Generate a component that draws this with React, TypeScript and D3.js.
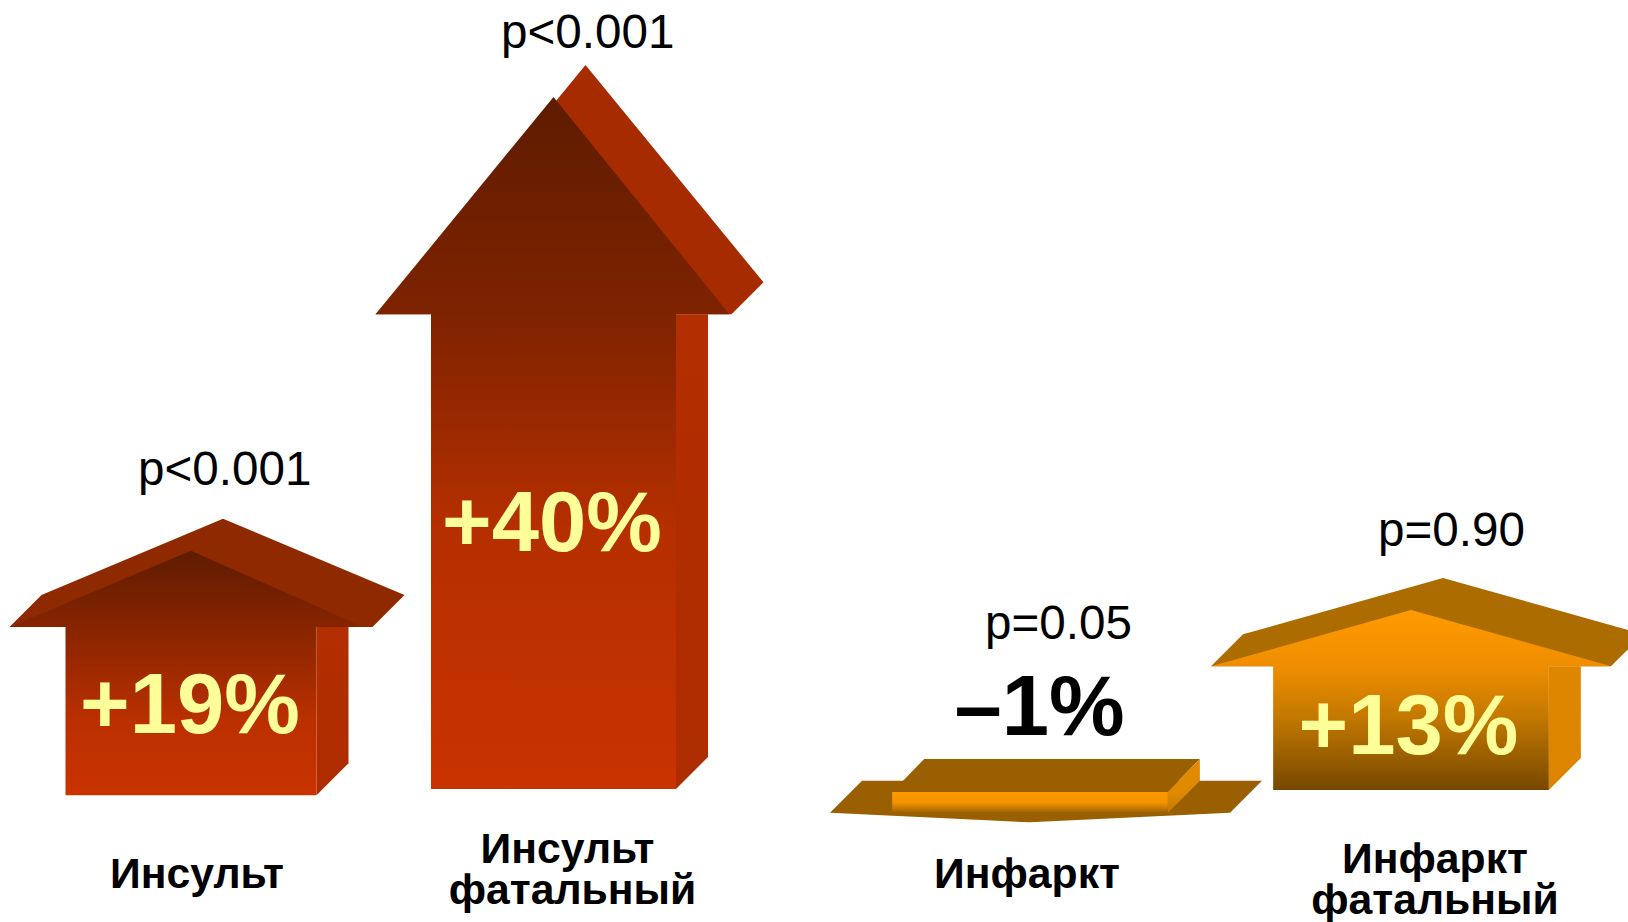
import React from "react";
import * as d3 from "d3";

// Outcomes and the relative change reported for each
const categories = ["stroke", "strokeFatal", "infarct", "infarctFatal"];
const changes = [19, 40, -1, 13];
const changeLabels = ["+19%", "+40%", "–1%", "+13%"];
const pLabels = ["p<0.001", "p<0.001", "p=0.05", "p=0.90"];
const nameLines = [["Инсульт"], ["Инсульт", "фатальный"], ["Инфаркт"], ["Инфаркт", "фатальный"]];

const WIDTH = 1628;
const HEIGHT = 922;
const FONT = "'Liberation Sans', Arial, sans-serif";
const DEPTH = 32;

// The arrows are schematic, so length follows the value through a stepped scale
const arrowLength = d3.scaleLinear().domain([-1, 13, 19, 40]).range([30.3, 180, 244.6, 692]);
const headLength = d3.scaleLinear().domain([-1, 13, 19, 40]).range([9.6, 56.3, 76.3, 217.3]);

const centerX = d3.scaleOrdinal<string, number>().domain(categories).range([191, 553.5, 1030, 1411]);
const baseY = d3.scaleOrdinal<string, number>().domain(categories).range([795.3, 789, 792, 790]);
const shaftWidth = d3.scaleOrdinal<string, number>().domain(categories).range([251, 245, 275.7, 275.7]);
const headWidth = d3.scaleOrdinal<string, number>().domain(categories).range([363, 356, 400, 400]);
// How far the lit front of the head stops short of its right corner
const headInset = d3.scaleOrdinal<string, number>().domain(categories).range([9, 2, 0, 0]);

const pX = d3.scaleOrdinal<string, number>().domain(categories).range([138, 501, 985, 1378]);
const pY = d3.scaleOrdinal<string, number>().domain(categories).range([485, 48, 638.5, 546]);
const valueX = d3.scaleOrdinal<string, number>().domain(categories).range([80, 442, 954.5, 1298.5]);
const valueY = d3.scaleOrdinal<string, number>().domain(categories).range([733, 550.5, 735, 754]);
const nameX = d3.scaleOrdinal<string, number>().domain(categories).range([197, 572.5, 1027, 1435]);
const nameY = d3.scaleOrdinal<string, number>().domain(categories).range([888, 863, 888, 873]);
// The first line of the fatal stroke label sits a little left of the second
const nameShift = d3.scaleOrdinal<string, number[]>().domain(categories).range([[0], [-5, 0], [0], [0, 0]]);

const outline = d3.line<[number, number]>().x((d) => d[0]).y((d) => d[1]);
const poly = (pts: [number, number][]) => (outline(pts) as string) + "Z";

type Palette = { roof: string; side: [string, string]; stops: [number, string][] };
const palettes: Palette[] = [
  { roof: "#8f2a00", side: ["#b62f00", "#ad2c00"], stops: [[0, "#5e1c00"], [0.3, "#852400"], [0.7, "#bb3000"], [1, "#c93300"]] },
  { roof: "#a62c00", side: ["#b62f00", "#ad2c00"], stops: [[0, "#5e1c00"], [0.32, "#7f2300"], [0.62, "#b52f00"], [1, "#c93300"]] },
  { roof: "#9a5f00", side: ["#e08a00", "#c47a00"], stops: [[0, "#ff9900"], [0.5, "#f59200"], [0.8, "#c27800"], [1, "#9a5f00"]] },
  { roof: "#ad6c00", side: ["#e08700", "#dd8500"], stops: [[0, "#ff9b00"], [0.32, "#ee8d00"], [0.6, "#c27800"], [1, "#774800"]] },
];

function UpArrow({ cat, i }: { cat: string; i: number }) {
  const v = changes[i];
  const cx = centerX(cat);
  const bottom = baseY(cat);
  const tip = bottom - arrowLength(v);
  const neck = tip + headLength(v);
  const sl = cx - shaftWidth(cat) / 2;
  const sr = cx + shaftWidth(cat) / 2;
  const hl = cx - headWidth(cat) / 2;
  const hr = cx + headWidth(cat) / 2;
  const pal = palettes[i];
  return (
    <g>
      <path
        d={poly([[hl, neck], [hl + DEPTH, neck - DEPTH], [cx + DEPTH, tip - DEPTH], [hr + DEPTH, neck - DEPTH], [hr, neck]])}
        fill={pal.roof}
      />
      <path
        d={poly([[sr, neck], [sr + DEPTH, neck], [sr + DEPTH, bottom - DEPTH], [sr, bottom]])}
        fill={`url(#side-${cat})`}
      />
      <path
        d={poly([[hl, neck], [cx, tip], [hr - headInset(cat), neck], [sr, neck], [sr, bottom], [sl, bottom], [sl, neck]])}
        fill={`url(#front-${cat})`}
      />
    </g>
  );
}

function DownArrow({ cat, i }: { cat: string; i: number }) {
  const v = changes[i];
  const cx = centerX(cat);
  const top = baseY(cat);
  const tip = top + arrowLength(v);
  const neck = tip - headLength(v);
  const sl = cx - shaftWidth(cat) / 2;
  const sr = cx + shaftWidth(cat) / 2;
  const hl = cx - headWidth(cat) / 2;
  const hr = cx + headWidth(cat) / 2;
  const pal = palettes[i];
  return (
    <g>
      <path
        d={poly([[hl, neck], [hl + DEPTH, neck - DEPTH], [hr + DEPTH, neck - DEPTH], [hr, neck], [cx, tip]])}
        fill={pal.roof}
      />
      <path
        d={poly([[sl, top], [sl + DEPTH, top - DEPTH - 1], [sr + DEPTH, top - DEPTH - 1], [sr, top]])}
        fill={pal.roof}
      />
      <path
        d={poly([[sr, top], [sr + DEPTH, top - DEPTH - 1], [sr + DEPTH, neck - DEPTH], [sr, neck]])}
        fill={`url(#side-${cat})`}
      />
      <path d={poly([[sl, top], [sr, top], [sr, neck], [sl, neck]])} fill={`url(#front-${cat})`} />
    </g>
  );
}

export default function App() {
  return (
    <svg
      width={WIDTH}
      height={HEIGHT}
      viewBox={`0 0 ${WIDTH} ${HEIGHT}`}
      style={{ position: "absolute", left: 0, top: 0, display: "block", background: "#fff" }}
    >
      <defs>
        {categories.map((cat, i) => {
          const v = changes[i];
          const b = baseY(cat);
          const y1 = v < 0 ? b : b - arrowLength(v);
          const y2 = v < 0 ? b + arrowLength(v) - headLength(v) : b;
          return (
            <React.Fragment key={cat}>
              <linearGradient id={`front-${cat}`} gradientUnits="userSpaceOnUse" x1={0} x2={0} y1={y1} y2={y2}>
                {palettes[i].stops.map(([o, c]) => (
                  <stop key={o} offset={o} stopColor={c} />
                ))}
              </linearGradient>
              <linearGradient id={`side-${cat}`} gradientUnits="userSpaceOnUse" x1={0} x2={0} y1={y1} y2={y2}>
                <stop offset={0} stopColor={palettes[i].side[0]} />
                <stop offset={1} stopColor={palettes[i].side[1]} />
              </linearGradient>
            </React.Fragment>
          );
        })}
      </defs>

      {categories.map((cat, i) =>
        changes[i] < 0 ? <DownArrow key={cat} cat={cat} i={i} /> : <UpArrow key={cat} cat={cat} i={i} />
      )}

      {categories.map((cat, i) => (
        <g key={cat} fontFamily={FONT}>
          <text x={pX(cat)} y={pY(cat)} fontSize={47.6} fill="#000">
            {pLabels[i]}
          </text>
          <text
            x={valueX(cat)}
            y={valueY(cat)}
            fontSize={85}
            fontWeight={700}
            fill={changes[i] < 0 ? "#000" : "#ffff99"}
          >
            {changeLabels[i]}
          </text>
          {nameLines[i].map((line, k) => (
            <text
              key={line}
              x={nameX(cat) + nameShift(cat)[k]}
              y={nameY(cat) + k * 40.5}
              fontSize={42.7}
              fontWeight={700}
              textAnchor="middle"
              fill="#000"
            >
              {line}
            </text>
          ))}
        </g>
      ))}
    </svg>
  );
}
